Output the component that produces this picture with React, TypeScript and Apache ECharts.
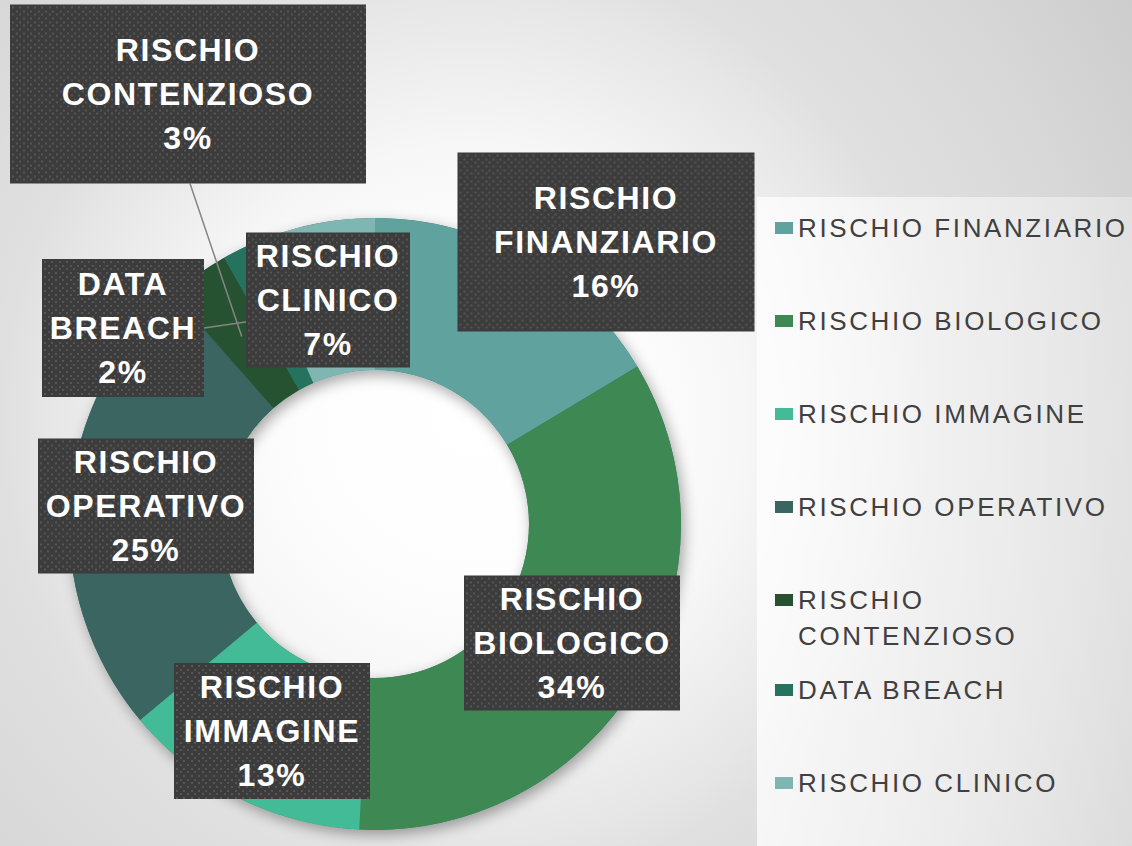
import React, { useEffect, useRef } from 'react';
import * as echarts from 'echarts';

// ---- data ----
const categories = [
  'RISCHIO FINANZIARIO',
  'RISCHIO BIOLOGICO',
  'RISCHIO IMMAGINE',
  'RISCHIO OPERATIVO',
  'RISCHIO CONTENZIOSO',
  'DATA BREACH',
  'RISCHIO CLINICO',
];
const counts = [10, 21, 8, 15, 2, 1, 4];
const sliceColors = ['#60a39e', '#3d8853', '#43bb96', '#3a6561', '#265232', '#25735f', '#80b6b1'];
const hasLeader = [false, false, false, false, true, true, false];
const leaderSide = ['', '', '', '', 'bottom', 'right', ''];

// legend groups (Excel-like slots)
const legendGroupA = categories.slice(0, 4);
const legendGroupB = categories.slice(4, 5);
const legendGroupC = categories.slice(5);

// ---- layout (label boxes: centre x, centre y, width, height, text offset) ----
const labelBoxes = [
  [606, 242, 297, 179, 9],
  [572, 643, 216, 135, 3],
  [272, 731, 196, 136, 3],
  [146, 506, 216, 135, 5],
  [188, 94, 356, 179, 9],
  [123, 328, 162, 138, 2],
  [328, 300, 164, 135, 3],
];

const W = 1132;
const H = 846;
const CX = 375;
const CY = 524;
const R0 = 154;
const R = 306;
const LINE_H = 44;
const FONT = "'Liberation Sans', Arial, sans-serif";

function makeBoxImage(w: number, h: number): string {
  const c = document.createElement('canvas');
  c.width = w;
  c.height = h;
  const g = c.getContext('2d')!;
  g.fillStyle = '#3c3c3c';
  g.fillRect(0, 0, w, h);
  g.fillStyle = '#555555';
  const sx = 7.33;
  const sy = 3.67;
  let j = 0;
  for (let y = 2; y < h - 1; y += sy, j++) {
    const off = j % 2 ? sx / 2 : 0;
    for (let x = 2 + off; x < w - 1; x += sx) {
      g.fillRect(Math.round(x), Math.round(y), 2, 2);
    }
  }
  return c.toDataURL();
}

const legendText = {
  color: '#404040',
  fontSize: 26,
  fontFamily: FONT,
  lineHeight: 36,
};

const legendBase = {
  orient: 'vertical',
  left: 775,
  padding: 0,
  itemWidth: 18,
  itemHeight: 12,
  itemGap: 57,
  icon: 'rect',
  selectedMode: false,
};

function buildOption(): any {
  const baseData = categories.map((name, i) => ({
    name,
    value: counts[i],
    itemStyle: { color: sliceColors[i] },
  }));

  const labelData = categories.map((name, i) => {
    const [, , bw, bh, dy] = labelBoxes[i];
    const pv = (bh - 3 * LINE_H) / 2;
    return {
      name,
      value: counts[i],
      itemStyle: { color: 'transparent' },
      label: {
        width: bw,
        padding: [pv + dy, 0, pv - dy, 0],
        backgroundColor: { image: makeBoxImage(bw, bh) },
      },
      labelLine: { show: hasLeader[i] },
    };
  });

  const pieGeom = {
    type: 'pie',
    center: [CX, CY],
    radius: [R0, R],
    startAngle: 90,
    clockwise: true,
    avoidLabelOverlap: false,
    percentPrecision: 0,
    emphasis: { disabled: true },
    silent: true,
  };

  return {
    animation: false,
    graphic: [
      {
        type: 'rect',
        z: -10,
        silent: true,
        shape: { x: 0, y: 0, width: W, height: H },
        style: {
          fill: new echarts.graphic.RadialGradient(
            470,
            420,
            850,
            [
              { offset: 0, color: '#ffffff' },
              { offset: 0.2, color: '#fdfdfd' },
              { offset: 0.32, color: '#f7f7f7' },
              { offset: 0.5, color: '#e6e6e6' },
              { offset: 0.55, color: '#e0e0e0' },
              { offset: 0.74, color: '#d8d8d8' },
              { offset: 0.92, color: '#cdcdcd' },
              { offset: 1, color: '#c8c8c8' },
            ],
            true
          ),
        },
      },
      {
        type: 'rect',
        z: -5,
        silent: true,
        shape: { x: 757, y: 197, width: W - 757, height: H - 197 },
        style: {
          fill: new echarts.graphic.LinearGradient(0, 0, 1, 0, [
            { offset: 0, color: 'rgba(255,255,255,0.75)' },
            { offset: 1, color: 'rgba(255,255,255,0.3)' },
          ]),
        },
      },
      {
        type: 'ring',
        z: 0,
        silent: true,
        shape: { cx: CX, cy: CY, r: R, r0: R0 },
        style: {
          fill: '#4a7f70',
          shadowBlur: 14,
          shadowOffsetX: 3,
          shadowOffsetY: 5,
          shadowColor: 'rgba(0,0,0,0.35)',
        },
      },
    ],
    legend: [
      { ...legendBase, top: 210, data: legendGroupA, textStyle: { ...legendText } },
      {
        ...legendBase,
        top: 546,
        data: legendGroupB,
        // wrapped name; the marker sits beside the first line (leading blank line centres it there)
        formatter: (n: string) => '\n' + n.split(' ').join('\n'),
        textStyle: { ...legendText },
      },
      { ...legendBase, top: 672, data: legendGroupC, textStyle: { ...legendText } },
    ],
    series: [
      {
        ...pieGeom,
        z: 2,
        label: { show: false },
        labelLine: { show: false },
        data: baseData,
      },
      {
        ...pieGeom,
        z: 3,
        label: {
          show: true,
          position: 'outside',
          overflow: 'none',
          formatter: (p: any) => p.name.split(' ').join('\n') + '\n' + p.percent + '%',
          color: '#fff',
          fontFamily: FONT,
          fontWeight: 'bold',
          fontSize: 32,
          lineHeight: LINE_H,
          align: 'center',
          shadowColor: 'rgba(0,0,0,0.5)',
          shadowBlur: 6,
          shadowOffsetX: 3,
          shadowOffsetY: 4,
        },
        labelLine: {
          show: false,
          lineStyle: { color: '#858585', width: 1.5 },
        },
        labelLayout: (params: any) => {
          const i = params.dataIndex;
          const [bx, by, bw, bh] = labelBoxes[i];
          const out: any = { x: bx, y: by, align: 'center', verticalAlign: 'middle' };
          if (hasLeader[i] && params.labelLinePoints && params.labelLinePoints.length) {
            const [x1, y1] = params.labelLinePoints[0];
            const k = (R0 + R) / 2 / R;
            const px = CX + (x1 - CX) * k;
            const py = CY + (y1 - CY) * k;
            const ax = leaderSide[i] === 'right' ? bx + bw / 2 : bx + 2;
            const ay = leaderSide[i] === 'right' ? by : by + bh / 2;
            out.labelLinePoints = [
              [px, py],
              [ax, ay],
            ];
          }
          return out;
        },
        data: labelData,
      },
    ],
  };
}

export default function App() {
  const ref = useRef<HTMLDivElement>(null);
  useEffect(() => {
    if (!ref.current) return;
    const chart = echarts.init(ref.current, null, { renderer: 'svg' });
    chart.setOption(buildOption());
    return () => {
      chart.dispose();
    };
  }, []);
  return (
    <>
      <style>{`
        .rc-chart text[fill="#404040"] { letter-spacing: 2.6px; }
        .rc-chart text[fill="#fff"] { letter-spacing: 1.6px; }
      `}</style>
      <div
        ref={ref}
        className="rc-chart"
        style={{ position: 'absolute', left: 0, top: 0, width: W, height: H }}
      />
    </>
  );
}
